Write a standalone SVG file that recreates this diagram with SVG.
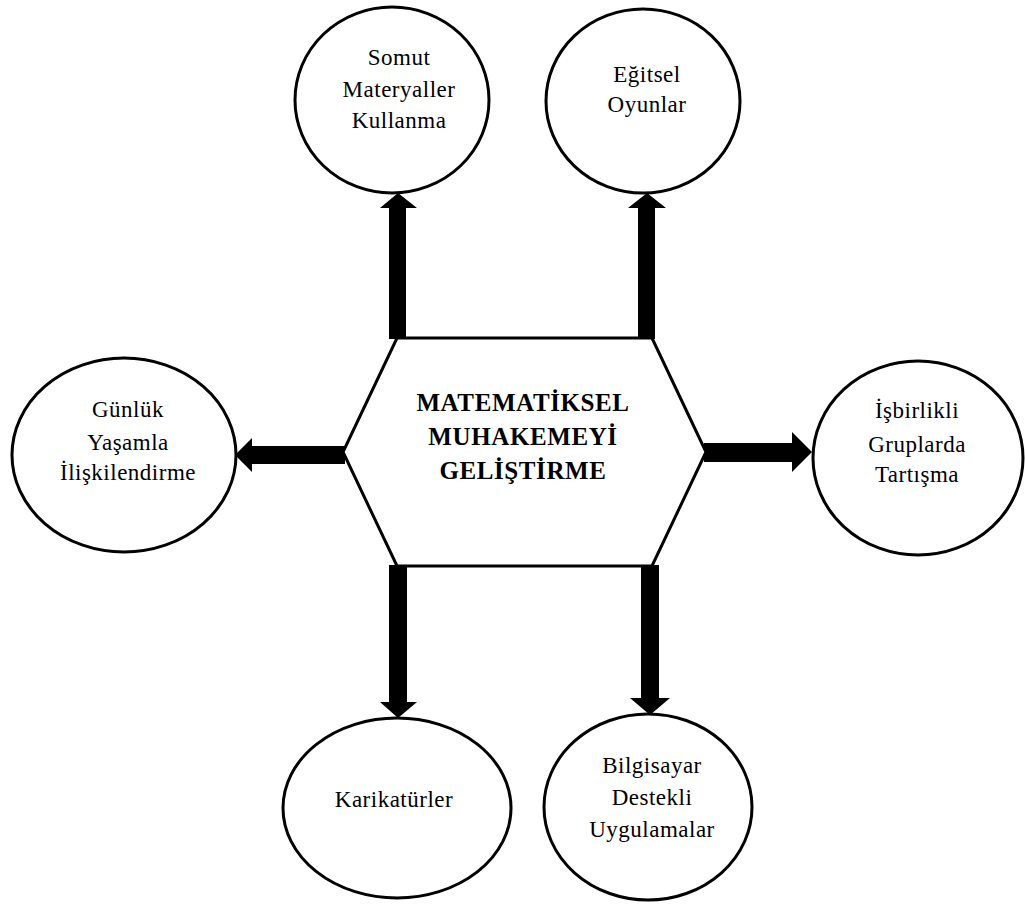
<svg xmlns="http://www.w3.org/2000/svg" width="1025" height="909" viewBox="0 0 1025 909">
<style>
  .node { fill: #fff; stroke: #000; stroke-width: 3; }
  .lbl { font-family: "Liberation Serif", "DejaVu Serif", "Times New Roman", serif; font-size: 23px; letter-spacing: 0.5px; fill: #000; text-anchor: middle; }
  .title { font-family: "Liberation Serif", "DejaVu Serif", "Times New Roman", serif; font-size: 25px; letter-spacing: 0.6px; font-weight: bold; fill: #000; text-anchor: middle; }
  .arrow { fill: #000; stroke: none; }
</style>
<rect width="1025" height="909" fill="#fff"/>
<g id="connectors">
  <polygon class="arrow" points="389,339 389,208 380,208 398,193 417,208 406,208 406,339"/>
  <polygon class="arrow" points="638,339 638,208 628,208 647,193 666,208 655,208 655,339"/>
  <polygon class="arrow" points="345,446 252,446 252,438 235,455 252,472 252,464 345,464"/>
  <polygon class="arrow" points="704,443 792,443 792,432 812,452 792,472 792,462 704,462"/>
  <polygon class="arrow" points="389,565 389,702 380,702 398,718 417,702 407,702 407,565"/>
  <polygon class="arrow" points="641,565 641,698 630,698 650,715 670,698 659,698 659,565"/>
</g>
<g id="center">
  <polygon class="node" points="397,338 652,338 706,452 652,566 397,566 343,452"/>
  <text class="title" x="523" y="411">MATEMATİKSEL</text>
  <text class="title" x="523" y="445">MUHAKEMEYİ</text>
  <text class="title" x="523" y="479">GELİŞTİRME</text>
</g>
<g id="somut">
  <ellipse class="node" cx="392" cy="100" rx="97" ry="93"/>
  <text class="lbl" x="399" y="65">Somut</text>
  <text class="lbl" x="399" y="97">Materyaller</text>
  <text class="lbl" x="399" y="128">Kullanma</text>
</g>
<g id="egitsel">
  <ellipse class="node" cx="643" cy="101" rx="97" ry="92"/>
  <text class="lbl" x="647" y="82">Eğitsel</text>
  <text class="lbl" x="647" y="112">Oyunlar</text>
</g>
<g id="gunluk">
  <ellipse class="node" cx="124" cy="455" rx="112" ry="97"/>
  <text class="lbl" x="128" y="417">Günlük</text>
  <text class="lbl" x="128" y="450">Yaşamla</text>
  <text class="lbl" x="128" y="480">İlişkilendirme</text>
</g>
<g id="isbirlikli">
  <ellipse class="node" cx="918" cy="458" rx="105" ry="97"/>
  <text class="lbl" x="917" y="418">İşbirlikli</text>
  <text class="lbl" x="917" y="452">Gruplarda</text>
  <text class="lbl" x="917" y="482">Tartışma</text>
</g>
<g id="karikatur">
  <ellipse class="node" cx="397" cy="808" rx="114" ry="90"/>
  <text class="lbl" x="394" y="807">Karikatürler</text>
</g>
<g id="bilgisayar">
  <ellipse class="node" cx="648" cy="807" rx="104" ry="93"/>
  <text class="lbl" x="652" y="773">Bilgisayar</text>
  <text class="lbl" x="652" y="805">Destekli</text>
  <text class="lbl" x="652" y="837">Uygulamalar</text>
</g>
</svg>
